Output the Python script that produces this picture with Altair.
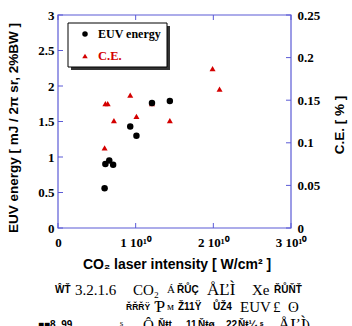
import altair as alt
import pandas as pd

# ---- data ----
euv_intensity = [0.60e10, 0.61e10, 0.66e10, 0.71e10, 0.93e10, 1.01e10, 1.21e10, 1.44e10]
euv_energy = [0.56, 0.90, 0.95, 0.89, 1.43, 1.30, 1.76, 1.79]

ce_intensity = [0.60e10, 0.61e10, 0.64e10, 0.72e10, 0.93e10, 1.01e10, 1.21e10, 1.44e10, 1.99e10, 2.08e10]
ce_value = [0.094, 0.146, 0.146, 0.126, 0.156, 0.131, 0.146, 0.126, 0.187, 0.163]

x_ticks = [0, 1e10, 2e10, 3e10]
euv_ticks = [0, 0.5, 1, 1.5, 2, 2.5, 3]
ce_ticks = [0, 0.05, 0.1, 0.15, 0.2, 0.25]

legend_labels = ["EUV energy", "C.E."]
x_title = "CO₂ laser intensity [ W/cm² ]"
y_title = "EUV energy [ mJ  / 2π sr, 2%BW ]"
y2_title = "C.E. [ % ]"
# caption pieces: (text, left x in picture, row, style)
caption_pieces = [
    ("ŴŤ", 55, 0, "b"), ("3.2.1.6", 75, 0, "s"), ("CO₂", 133, 0, "s"), ("Á", 167, 0, "t"),
    ("ŘŮÇ", 177, 0, "b"), ("ÅĽÌ", 207, 0, "L"), ("Xe", 252, 0, "s"), ("ŘŮŇŤ", 274, 0, "b"),
    ("ŘŘŘŸ", 126, 1, "c"), ("Ƥ", 154, 1, "L"), ("ᴍ", 167, 1, "t"), ("Ž11Ÿ", 178, 1, "b"),
    ("ŮŽ4", 213, 1, "b"), ("EUV", 240, 1, "s"), ("£", 273, 1, "s"), ("ʘ", 288, 1, "s"),
    ("■■8, 99", 38, 2, "b"), (". . .", 80, 2, "s"), ("ˢ", 120, 2, "s"), ("Ô", 143, 2, "s"),
    ("Ňŧt", 158, 2, "b"), ("11", 186, 2, "b"), ("Ňŧø", 198, 2, "b"), ("22", 226, 2, "b"),
    ("Ňŧ¼ ˢ", 238, 2, "b"), ("ÅĽÌ", 278, 2, "L"), (")", 305, 2, "s"),
]
caption_rows_y = [290, 307, 325]

BLUE = "#5b5bd6"
RED = "#d40000"
SERIF = "Liberation Serif"
SANS = "Liberation Sans"
OX, OY = 58, 15  # plot origin in the picture
W, H = 233, 213

euv_df = pd.DataFrame({"x": euv_intensity, "y": euv_energy})
ce_df = pd.DataFrame({"x": ce_intensity, "y": ce_value})
xt_df = pd.DataFrame({"x": x_ticks})
left_df = pd.DataFrame({"y": euv_ticks})
right_df = pd.DataFrame({"y": ce_ticks})

x_scale = alt.Scale(domain=[0, 3e10], nice=False)
euv_scale = alt.Scale(domain=[0, 3], nice=False)
ce_scale = alt.Scale(domain=[0, 0.25], nice=False)

label_kw = dict(labelFont=SERIF, labelFontWeight="bold", labelFontSize=13,
                labelColor="black", ticks=False, domain=False, grid=False,
                title=None, labelFlush=False, labelOverlap=False)

x_axis = alt.Axis(values=x_ticks, orient="bottom", labelPadding=8,
                  labelExpr="datum.value == 0 ? '0' : format(datum.value/1e10, 'd') + ' 10¹⁰'",
                  **label_kw)
left_axis = alt.Axis(values=euv_ticks, orient="left", format=".1~f", labelPadding=4, **label_kw)
right_axis = alt.Axis(values=ce_ticks, orient="right", format=".2~f", labelPadding=6, **label_kw)

X = alt.X("x:Q", scale=x_scale, axis=x_axis)
Y_left = alt.Y("y:Q", scale=euv_scale, axis=left_axis)
Y_right = alt.Y("y:Q", scale=ce_scale, axis=right_axis)

euv_layer = alt.Chart(euv_df).mark_point(
    shape="circle", filled=True, color="black", size=42, opacity=1
).encode(x=X, y=Y_left)

ce_layer = alt.Chart(ce_df).mark_point(
    shape="triangle-up", filled=True, color=RED, size=36, opacity=1
).encode(x=X, y=Y_right)

bottom_ticks = alt.Chart(xt_df).mark_rule(color=BLUE).encode(
    x=X, y=alt.value(H - 5), y2=alt.value(H))
top_ticks = alt.Chart(xt_df).mark_rule(color=BLUE).encode(
    x=X, y=alt.value(0), y2=alt.value(5))
left_ticks = alt.Chart(left_df).mark_rule(color=BLUE).encode(
    y=Y_left, x=alt.value(0), x2=alt.value(5))
right_ticks = alt.Chart(right_df).mark_rule(color=BLUE).encode(
    y=Y_right, x=alt.value(W - 5), x2=alt.value(W))

left_group = alt.layer(left_ticks, bottom_ticks, top_ticks, euv_layer)
right_group = alt.layer(right_ticks, ce_layer)
data_layers = alt.layer(right_group, left_group).resolve_scale(y="independent")

frame = alt.Chart().mark_rect(fill=None, stroke=BLUE, strokeWidth=1.2).encode(
    x=alt.value(0), x2=alt.value(W), y=alt.value(0), y2=alt.value(H))

# ---- legend box ----
shadow = alt.Chart().mark_rect(color="#333333").encode(
    x=alt.value(13), x2=alt.value(112), y=alt.value(11), y2=alt.value(55))
box = alt.Chart().mark_rect(fill="white", stroke="black", strokeWidth=1).encode(
    x=alt.value(10), x2=alt.value(109), y=alt.value(8), y2=alt.value(52))
sym1 = alt.Chart().mark_point(shape="circle", filled=True, color="black", size=30, opacity=1).encode(
    x=alt.value(27), y=alt.value(19))
sym2 = alt.Chart().mark_point(shape="triangle-up", filled=True, color=RED, size=30, opacity=1).encode(
    x=alt.value(27), y=alt.value(41))
lab1 = alt.Chart().mark_text(text=legend_labels[0], font=SERIF, fontWeight="bold", fontSize=12,
                             align="left", baseline="middle", color="black").encode(
    x=alt.value(40), y=alt.value(19))
lab2 = alt.Chart().mark_text(text=legend_labels[1], font=SERIF, fontWeight="bold", fontSize=12.5,
                             align="left", baseline="middle", color=RED).encode(
    x=alt.value(40), y=alt.value(41))

# ---- titles ----
xt = alt.Chart().mark_text(text=x_title, font=SANS, fontWeight="bold", fontSize=14,
                           align="center", baseline="middle").encode(
    x=alt.value(119), y=alt.value(250))
yt = alt.Chart().mark_text(text=y_title, font=SANS, fontWeight="bold", fontSize=13.5,
                           align="center", baseline="middle", angle=270).encode(
    x=alt.value(-44), y=alt.value(113))
y2t = alt.Chart().mark_text(text=y2_title, font=SANS, fontWeight="bold", fontSize=13.5,
                            align="center", baseline="middle", angle=270).encode(
    x=alt.value(282), y=alt.value(110))

# ---- caption ----
styles = {
    "s": dict(font=SERIF, fontSize=15),
    "t": dict(font=SERIF, fontSize=11),
    "L": dict(font=SERIF, fontSize=17),
    "b": dict(font=SANS, fontSize=10, fontWeight="bold"),
    "c": dict(font=SANS, fontSize=8.5, fontWeight="bold"),
}
cap_layers = []
for txt, px, row, st in caption_pieces:
    cap_layers.append(
        alt.Chart().mark_text(text=txt, align="left", baseline="middle", color="black",
                              **styles[st]).encode(
            x=alt.value(px - OX), y=alt.value(caption_rows_y[row] - OY))
    )

chart = alt.layer(
    data_layers, frame, shadow, box, sym1, sym2, lab1, lab2, xt, yt, y2t, *cap_layers
).properties(
    width=W, height=H,
    padding={"left": 58, "top": 15, "right": 61, "bottom": 98},
    autosize=alt.AutoSizeParams(type="none"),
    background="white",
).configure_view(stroke=None)

chart.save("out.html", embed_options={"renderer": "svg", "actions": False})
